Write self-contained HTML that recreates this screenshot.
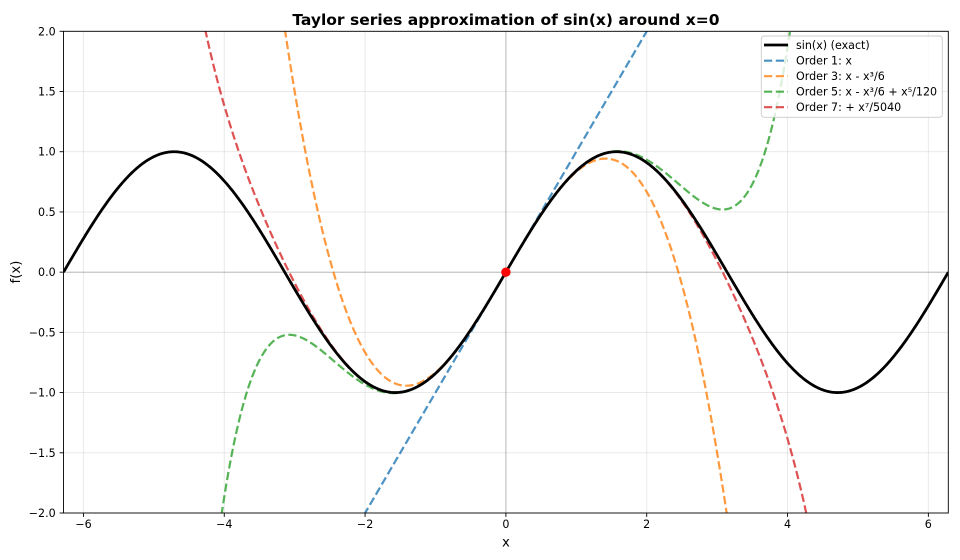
<!DOCTYPE html>
<html>
<head>
<meta charset="utf-8">
<style>
  html, body { margin: 0; padding: 0; background: #ffffff; width: 960px; height: 560px; overflow: hidden; }
  svg { display: block; font-family: "DejaVu Sans", "Liberation Sans", sans-serif; }
</style>
</head>
<body>
<svg id="chart" width="960" height="560" viewBox="0 0 960 560" xmlns="http://www.w3.org/2000/svg">
  <rect x="0" y="0" width="960" height="560" fill="#ffffff"/>
  <defs>
    <clipPath id="plotclip">
      <rect x="63.5" y="31.3" width="884.8" height="481.7"/>
    </clipPath>
  </defs>

  <!-- grid -->
  <g id="grid" stroke="#b0b0b0" stroke-opacity="0.3" stroke-width="0.9"></g>

  <!-- zero lines -->
  <g stroke="#000" stroke-opacity="0.25" stroke-width="0.9">
    <line x1="63.5" y1="272.15" x2="948.3" y2="272.15"/>
    <line x1="505.9" y1="31.3" x2="505.9" y2="513"/>
  </g>

  <!-- curves -->
  <g clip-path="url(#plotclip)" fill="none">
    <path id="t1" stroke="#1f77b4" stroke-opacity="0.8" stroke-width="2.22" stroke-dasharray="8.22 3.56" stroke-linejoin="round"/>
    <path id="t3" stroke="#ff7f0e" stroke-opacity="0.8" stroke-width="2.22" stroke-dasharray="8.22 3.56" stroke-linejoin="round"/>
    <path id="t5" stroke="#2ca02c" stroke-opacity="0.8" stroke-width="2.22" stroke-dasharray="8.22 3.56" stroke-linejoin="round"/>
    <path id="t7" stroke="#d62728" stroke-opacity="0.8" stroke-width="2.22" stroke-dasharray="8.22 3.56" stroke-linejoin="round"/>
    <path id="sinp" stroke="#000000" stroke-width="2.78" stroke-linejoin="round" stroke-linecap="butt"/>
    <circle cx="505.9" cy="272.15" r="4.7" fill="#ff0000"/>
  </g>

  <!-- spines -->
  <rect x="63.5" y="31.3" width="884.8" height="481.7" fill="none" stroke="#000" stroke-width="0.9"/>

  <!-- ticks -->
  <g id="ticks" stroke="#000" stroke-width="0.9"></g>

  <!-- tick labels -->
  <g font-size="11.1" fill="#000" text-anchor="middle">
    <text x="83.5" y="528">−6</text>
    <text x="224.3" y="528">−4</text>
    <text x="365.1" y="528">−2</text>
    <text x="505.9" y="528">0</text>
    <text x="646.7" y="528">2</text>
    <text x="787.5" y="528">4</text>
    <text x="928.3" y="528">6</text>
  </g>
  <g font-size="11.1" fill="#000" text-anchor="end">
    <text x="55.7" y="35.3">2.0</text>
    <text x="55.7" y="95.5">1.5</text>
    <text x="55.7" y="155.7">1.0</text>
    <text x="55.7" y="215.9">0.5</text>
    <text x="55.7" y="276.15">0.0</text>
    <text x="55.7" y="336.4">−0.5</text>
    <text x="55.7" y="396.6">−1.0</text>
    <text x="55.7" y="456.8">−1.5</text>
    <text x="55.7" y="517">−2.0</text>
  </g>

  <!-- axis labels -->
  <text x="505.9" y="546.5" font-size="13.3" text-anchor="middle" fill="#000">x</text>
  <text transform="translate(20,272) rotate(-90)" font-size="13.3" text-anchor="middle" fill="#000">f(x)</text>

  <!-- title -->
  <text x="505.9" y="25" font-size="15.5" font-weight="bold" text-anchor="middle" fill="#000">Taylor series approximation of sin(x) around x=0</text>

  <!-- legend -->
  <rect x="761.3" y="36" width="181" height="81.3" rx="3" ry="3" fill="#ffffff" fill-opacity="0.8" stroke="#cccccc" stroke-width="0.9"/>
  <g fill="none">
    <line x1="764" y1="45" x2="788" y2="45" stroke="#000" stroke-width="2.78"/>
    <line x1="764" y1="60.7" x2="788" y2="60.7" stroke="#1f77b4" stroke-opacity="0.8" stroke-width="2.22" stroke-dasharray="8.22 3.56"/>
    <line x1="764" y1="76.2" x2="788" y2="76.2" stroke="#ff7f0e" stroke-opacity="0.8" stroke-width="2.22" stroke-dasharray="8.22 3.56"/>
    <line x1="764" y1="91.7" x2="788" y2="91.7" stroke="#2ca02c" stroke-opacity="0.8" stroke-width="2.22" stroke-dasharray="8.22 3.56"/>
    <line x1="764" y1="107.2" x2="788" y2="107.2" stroke="#d62728" stroke-opacity="0.8" stroke-width="2.22" stroke-dasharray="8.22 3.56"/>
  </g>
  <g font-size="11.1" fill="#000">
    <text x="796" y="49">sin(x) (exact)</text>
    <text x="796" y="64.7">Order 1: x</text>
    <text x="796" y="80.2">Order 3: x - x³/6</text>
    <text x="796" y="95.7">Order 5: x - x³/6 + x⁵/120</text>
    <text x="796" y="111.2">Order 7: + x⁷/5040</text>
  </g>
</svg>
<script>
(function(){
  var L=63.5, R=948.3, T=31.3, B=513;
  var PI=Math.PI;
  function X(x){ return L + (x + 2*PI)/(4*PI)*(R-L); }
  function Y(y){ return T + (2 - y)/4*(B-T); }
  var ns="http://www.w3.org/2000/svg";
  var grid=document.getElementById('grid');
  var ticks=document.getElementById('ticks');
  function line(g,x1,y1,x2,y2){
    var l=document.createElementNS(ns,'line');
    l.setAttribute('x1',x1);l.setAttribute('y1',y1);
    l.setAttribute('x2',x2);l.setAttribute('y2',y2);
    g.appendChild(l);
  }
  [-6,-4,-2,0,2,4,6].forEach(function(v){
    var x=X(v);
    line(grid,x,T,x,B);
    line(ticks,x,B,x,B+3.9);
  });
  [-2,-1.5,-1,-0.5,0,0.5,1,1.5,2].forEach(function(v){
    var y=Y(v);
    line(grid,L,y,R,y);
    line(ticks,L-3.9,y,L,y);
  });
  var N=1000;
  var YT=T-2, YB=B+2;
  function build(f){
    var pts=[];
    for(var i=0;i<N;i++){
      var x=-2*PI + 4*PI*i/(N-1);
      pts.push([X(x), Y(f(x))]);
    }
    var d='', pen=false;
    function inside(p){ return p[1]>=YT && p[1]<=YB; }
    function cross(a,b,yl){
      var t=(yl-a[1])/(b[1]-a[1]);
      return [a[0]+t*(b[0]-a[0]), yl];
    }
    function fmt(p){ return p[0].toFixed(2)+' '+p[1].toFixed(2); }
    for(var j=0;j<pts.length;j++){
      var p=pts[j];
      var ins=inside(p);
      if(j===0){
        if(ins){ d+='M'+fmt(p); pen=true; }
        continue;
      }
      var q=pts[j-1];
      var qin=inside(q);
      if(ins && qin){
        d+='L'+fmt(p);
      } else if(ins && !qin){
        var yl = q[1]<YT ? YT : YB;
        d+='M'+fmt(cross(q,p,yl))+'L'+fmt(p);
        pen=true;
      } else if(!ins && qin){
        var yl2 = p[1]<YT ? YT : YB;
        d+='L'+fmt(cross(q,p,yl2));
        pen=false;
      } else {
        // both outside: check if passes through (top to bottom)
        if((q[1]<YT && p[1]>YB) || (q[1]>YB && p[1]<YT)){
          var a=cross(q,p,q[1]<YT?YT:YB), b=cross(q,p,p[1]<YT?YT:YB);
          d+='M'+fmt(a)+'L'+fmt(b);
        }
      }
    }
    return d;
  }
  document.getElementById('sinp').setAttribute('d',build(Math.sin));
  document.getElementById('t1').setAttribute('d',build(function(x){return x;}));
  document.getElementById('t3').setAttribute('d',build(function(x){return x - x*x*x/6;}));
  document.getElementById('t5').setAttribute('d',build(function(x){return x - x*x*x/6 + Math.pow(x,5)/120;}));
  document.getElementById('t7').setAttribute('d',build(function(x){return x - x*x*x/6 + Math.pow(x,5)/120 - Math.pow(x,7)/5040;}));
})();
</script>
</body>
</html>
